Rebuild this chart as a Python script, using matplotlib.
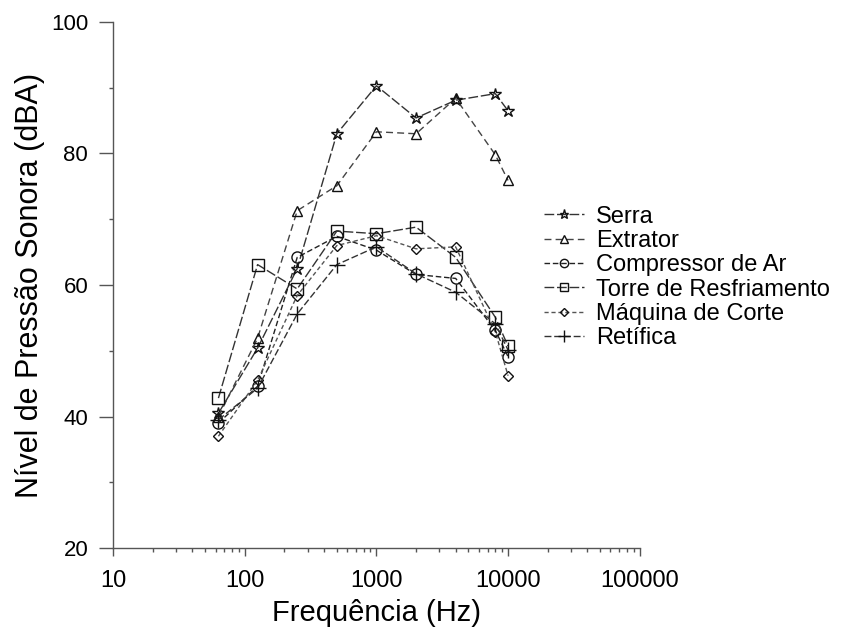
import matplotlib
matplotlib.use("Agg")
import matplotlib.pyplot as plt
from matplotlib.ticker import FixedLocator, LogLocator, NullFormatter, FixedFormatter

plt.rcParams['font.family'] = ['Liberation Sans', 'DejaVu Sans']

freq = [63, 125, 250, 500, 1000, 2000, 4000, 8000, 10000]
serra = [40.5, 50.4, 62.5, 83.0, 90.3, 85.4, 88.1, 89.1, 86.5]
extrator = [40.0, 51.9, 71.3, 75.1, 83.3, 83.0, 88.4, 79.8, 75.9]
compressor = [39.0, 44.6, 64.2, 67.4, 65.3, 61.6, 61.0, 53.1, 49.1]
torre = [42.8, 63.1, 59.4, 68.2, 67.8, 68.8, 64.2, 55.1, 50.7]
maquina = [37.0, 45.5, 58.4, 66.0, 67.5, 65.5, 65.8, 52.9, 46.2]
retifica = [39.5, 44.3, 55.6, 63.1, 65.8, 61.7, 58.9, 54.1, 50.1]

labels = ["Serra", "Extrator", "Compressor de Ar", "Torre de Resfriamento",
          "Máquina de Corte", "Retífica"]
series = [serra, extrator, compressor, torre, maquina, retifica]
markers = ["*", "^", "o", "s", "D", "+"]
msizes = [9, 7, 8, 8, 5, 11]
dashes = [(7, 2), (5, 3), (4, 2), (7, 2), (3, 2), (5, 2)]
colors = ["#333333", "#444444", "#222222", "#333333", "#555555", "#333333"]

fig = plt.figure(figsize=(8.45, 6.39), dpi=100)
ax = fig.add_axes([0.134, 0.1424, 0.623, 0.8232])

handles = []
for y, lab, m, ms, d, c in zip(series, labels, markers, msizes, dashes, colors):
    h, = ax.plot(freq, y, linestyle=(0, d), color=c, linewidth=1.0, marker=m,
                 markersize=ms, markerfacecolor="none" if m != "+" else c,
                 markeredgecolor="#111111", markeredgewidth=1.0, label=lab)
    handles.append(h)

ax.set_xscale("log")
ax.set_xlim(10, 100000)
ax.set_ylim(20, 100)
ax.yaxis.set_major_locator(FixedLocator([20, 40, 60, 80, 100]))
ax.yaxis.set_minor_locator(FixedLocator([30, 50, 70, 90]))
ax.xaxis.set_major_locator(FixedLocator([10, 100, 1000, 10000, 100000]))
ax.xaxis.set_major_formatter(FixedFormatter(["10", "100", "1000", "10000", "100000"]))
ax.xaxis.set_minor_locator(LogLocator(base=10, subs=range(2, 10), numticks=20))
ax.xaxis.set_minor_formatter(NullFormatter())

for s in ["top", "right"]:
    ax.spines[s].set_visible(False)
for s in ["left", "bottom"]:
    ax.spines[s].set_color("#555555")
    ax.spines[s].set_linewidth(1.0)

ax.tick_params(axis="y", which="major", direction="out", length=10, width=1,
               color="#555555", labelsize=16, pad=8)
ax.tick_params(axis="y", which="minor", direction="out", length=3, width=1,
               color="#555555")
ax.tick_params(axis="x", which="major", direction="out", length=6, width=1,
               color="#555555", labelsize=17, pad=10)
ax.tick_params(axis="x", which="minor", direction="out", length=3, width=1,
               color="#555555")

ax.set_xlabel("Frequência (Hz)", fontsize=21, labelpad=5)
ax.set_ylabel("Nível de Pressão Sonora (dBA)", fontsize=22, labelpad=4)

fig.legend(handles=handles, loc="upper left", bbox_to_anchor=(0.624, 0.704),
           frameon=False, fontsize=17, handlelength=1.7, handletextpad=0.5,
           labelspacing=0.1, markerscale=0.75, borderpad=0.2)

fig.savefig("out.png", dpi=100)
